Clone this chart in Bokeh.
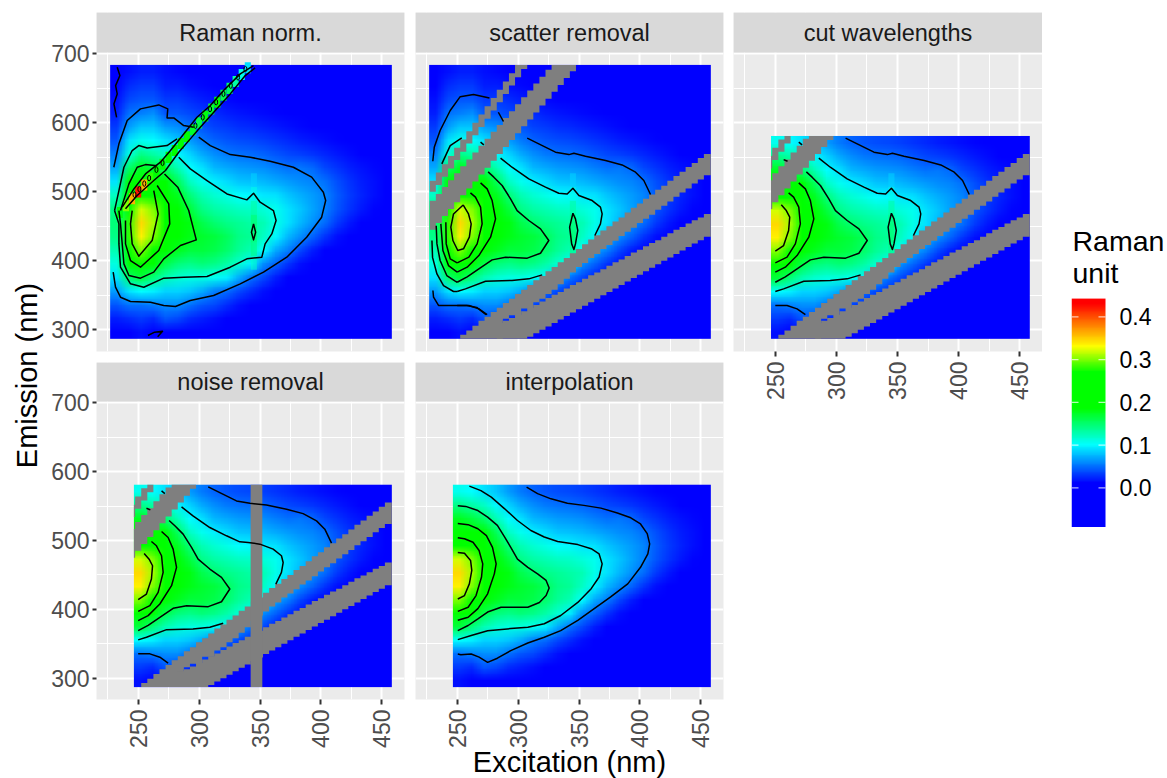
import base64, struct, zlib
import numpy as np
from bokeh.plotting import figure
from bokeh.layouts import row, column
from bokeh.models import (Range1d, LinearAxis, FixedTicker, Grid, LinearColorMapper, ColumnDataSource)
from bokeh.core.properties import value
from bokeh.embed import file_html
from bokeh.resources import INLINE

FONT = "Liberation Sans"
# ------------------------------------------------------------------ data
panel_titles = ["Raman norm.", "scatter removal", "cut wavelengths", "noise removal", "interpolation"]
ex_ticks = [250, 300, 350, 400, 450]
ex_minor = [225, 275, 325, 375, 425]
em_ticks = [300, 400, 500, 600, 700]
em_minor = [350, 450, 550, 650]
legend_ticks = [0.0, 0.1, 0.2, 0.3, 0.4]
legend_labels = ["0.0", "0.1", "0.2", "0.3", "0.4"]
legend_low, legend_high = -0.093, 0.443

# surface columns, one per excitation step; rows run emission 297 ... 677 in 20 nm steps
s232 = [.010,.020,.040,.065,.090,.110,.125,.140,.145,.140,.120,.090,.070,.055,.040,.030,.020,.015,.010,.008]
s242 = [.010,.025,.050,.090,.150,.210,.260,.280,.280,.250,.220,.190,.150,.110,.090,.065,.050,.035,.025,.015]
s252 = [.015,.030,.050,.100,.165,.250,.300,.335,.345,.320,.260,.220,.175,.140,.105,.080,.055,.040,.030,.020]
s262 = [.010,.025,.055,.095,.145,.210,.260,.300,.310,.300,.255,.210,.165,.130,.100,.080,.060,.040,.030,.020]
s272 = [.010,.040,.060,.085,.125,.160,.210,.245,.255,.245,.220,.190,.150,.120,.090,.065,.040,.030,.020,.015]
s282 = [.010,.035,.060,.085,.115,.145,.175,.190,.200,.195,.175,.155,.125,.098,.080,.060,.040,.030,.020,.012]
s292 = [.008,.025,.050,.080,.110,.140,.165,.178,.180,.165,.145,.120,.100,.085,.065,.050,.035,.025,.015,.010]
s302 = [.006,.020,.040,.070,.110,.145,.165,.170,.160,.140,.125,.105,.090,.070,.053,.040,.030,.020,.012,.008]
s312 = [.005,.015,.035,.055,.105,.140,.160,.165,.148,.130,.115,.095,.075,.060,.045,.033,.025,.016,.010,.006]
s322 = [.003,.010,.025,.048,.095,.130,.150,.155,.140,.125,.108,.088,.070,.053,.040,.030,.020,.012,.008,.004]
s332 = [.002,.006,.015,.035,.070,.115,.135,.140,.135,.120,.100,.080,.065,.050,.037,.026,.017,.010,.006,.003]
s342 = [.001,.003,.010,.025,.050,.095,.125,.135,.130,.118,.098,.078,.063,.048,.035,.024,.015,.009,.005,.002]
s352 = [.000,.001,.005,.015,.035,.060,.100,.120,.125,.112,.092,.075,.060,.045,.032,.021,.013,.008,.004,.002]
s362 = [.000,.000,.002,.008,.020,.045,.070,.098,.108,.105,.090,.070,.055,.040,.028,.018,.011,.006,.003,.001]
s372 = [.000,.000,.000,.003,.010,.028,.055,.075,.090,.090,.080,.065,.050,.035,.024,.015,.009,.005,.002,.001]
s382 = [.000,.000,.000,.001,.005,.015,.035,.060,.075,.080,.072,.060,.052,.032,.020,.012,.007,.004,.002,.001]
s392 = [.000,.000,.000,.000,.002,.008,.020,.045,.062,.068,.065,.057,.047,.028,.017,.010,.006,.003,.001,.000]
s402 = [.000,.000,.000,.000,.000,.003,.010,.028,.048,.056,.057,.050,.035,.023,.014,.008,.004,.002,.001,.000]
s412 = [.000,.000,.000,.000,.000,.001,.005,.015,.030,.040,.042,.038,.028,.018,.011,.006,.003,.001,.000,.000]
s422 = [.000,.000,.000,.000,.000,.000,.002,.008,.018,.028,.031,.028,.021,.014,.008,.004,.002,.000,.000,.000]
s432 = [.000,.000,.000,.000,.000,.000,.000,.003,.010,.018,.022,.020,.016,.010,.006,.003,.001,.000,.000,.000]
s442 = [.000,.000,.000,.000,.000,.000,.000,.001,.005,.011,.015,.015,.012,.008,.004,.002,.000,.000,.000,.000]
s452 = [.000,.000,.000,.000,.000,.000,.000,.000,.002,.006,.010,.010,.009,.006,.003,.001,.000,.000,.000,.000]

# narrow ridge of panel 1
ridge_ex = [235,240,245,250,255,260,265,270,275,280,285,290,295,300,305,310,315,320,325,330,335,340]
ridge_em = [470,480,490,500,510,520,530,540,550,560,570,580,590,600,610,620,630,640,650,660,670,680]
ridge_val = [.18,.30,.36,.42,.36,.28,.22,.20,.20,.19,.20,.19,.17,.16,.18,.17,.19,.16,.15,.13,.11,.09]
ridge_loop_ex = [247,251,255,259,265,270,297,303,309,314,320,326,332,338]
ridge_loop_em = [496,504,512,520,532,542,596,608,620,630,642,654,666,678]

# small peak at 345 nm
bump_em = [397,417,437,457,477,497,517]
bump_val = [.12,.145,.155,.155,.135,.11,.085]

# scatter bands per 5 nm excitation column
band_a_ex = [230,235,240,245,250,255,260,265,270,275,280,285,290,295,300,305]
band_a_low = [500,510,522,534,546,558,570,582,594,606,618,630,642,654,666,678]
band_a_high = [516,528,540,552,564,576,588,600,612,624,636,648,660,672,684,690]
band_b_ex = [230,235,240,245,250,255,260,265,270,275,280,285,290,295,300,305,310,315,320,325,330,335,340,345,350]
band_b_low = [445,455,465,475,485,495,505,515,525,535,545,555,565,575,585,595,605,615,625,635,645,655,665,675,685]
band_b_high = [487,497,507,517,527,537,547,557,567,577,587,597,607,617,627,637,647,657,667,677,687,697,707,717,727]
band_c_ex = [255,260,265,270,275,280,285,290,295,300,305,310,315,320,325,330,335,340,345,350,355,360,365,370,375,380,385,390,395,400,405,410,415,420,425,430,435,440,445,450,455]
band_c_low = [287,287,287,287,287,287,287,316,321,321,331,331,340,345,352,358,366,374,383,391,397,404,410,417,423,429,436,442,448,455,461,467,474,480,486,493,499,505,512,518,524]
band_c_high = [293,299,306,313,319,326,332,339,345,352,358,365,372,378,385,391,398,404,411,417,424,431,437,444,450,457,463,470,477,483,490,496,503,509,516,523,529,536,542,549,555]
band_d_ex = [285,290,295,300,305,310,315,320,325,330,335,340,345,350,355,360,365,370,375,380,385,390,395,400,405,410,415,420,425,430,435,440,445,450,455]
band_d_low = [287,287,287,287,287,290,295,300,305,310,315,320,325,330,335,340,345,350,355,360,365,370,375,380,385,390,395,400,405,410,415,420,425,430,435]
band_d_high = [310,313,317,322,327,332,336,341,346,351,355,360,365,369,374,379,383,388,393,398,402,407,412,416,421,426,430,435,440,445,449,454,459,463,468]
noise_band = [342.3, 351.9]

# contour lines of the interpolated surface
int_1 = ([250.5,253,261.5,268,275,283,294,308,321.5,335,349,362.5,376,390,400.5,406.5,408,406,400.5,392.5,381.5,368,354,340.5,327,316,307],
         [335,334,335,330.5,323,329,340,351,359.5,369,384,401,418,437,461,480.5,495,510,524,533,540,547,551,554,560.5,568,577.5])
int_2 = ([250.5,261.5,275,294,308,321.5,335,349,360,366.5,369,366.5,360,349,332.5,321.5,310.5,299.5,289,278,269.5,260],
         [356,362,369,372,374,379,391,410,430,447,466,480.5,488,494,498.5,505,514.5,529,546,563,572.5,579])
int_3 = ([250.5,259,267,275,286,297,308,317.5,323,325.5,323,316,308,299.5,294,289,283,275,267,257,250.5],
         [369,376.5,386,396,403,403,403,410,420,431,442,451.5,461,473,490,505,522,534,543.5,549.5,550.5])
int_4 = ([250.5,259,267,275,280.5,282,279,274,267,259,250.5],
         [384,388.5,401,422.5,451.5,466,490,507,517,523,524.5])
int_5 = ([250.5,259,265.5,270,271,268,263,256,250.5],
         [397,403,420,447,466,485.5,497.5,502.5,504])
int_6 = ([250.5,256,260,262,261,256,250.5],
         [415,420,437,456.5,471,481.5,482.5])

# contour lines of the cut, masked surface
cut_a = ([307.5,317,330.7,341.7,345.8,355.3,371.8,385.4,396.4,403.2,408.7],
         [577.8,569.6,557.5,554,556,551.7,545.4,539,528.5,516.4,496.1])
cut_b = ([285.6,295,308.8,322.5,333.4,340.3,345,349.9,360.8,367.6,369,367.6,363],
         [548.8,535.7,518.8,506.8,498,497,505.3,494.7,487.4,477.8,468,453.6,436.7])
cut_lens = ([345,342.3,344,345.8,347.1,349,347.1,345],
            [469,448.8,424.6,416.4,424.6,444,460.9,469])
cut_d = ([250,256.8,273.3,295,308.8,319.8],
         [355.6,359.4,370.5,371.5,373.9,379.7])
cut_e = ([250,258.2,267.8,278.7,289.7,307.5,318.4,325.2,318.4,308.8,299.2,293.8,286.9,280.1,275.4],
         [369,376.8,388.4,401.4,405.3,403.9,411,429.5,446.4,458.5,472.9,489.9,509.2,521.3,529])
cut_f = ([250,258.2,267.8,277.4,281.5,278.7,274.6,269.2],
         [383.6,390.8,407.7,434.3,460.9,487.4,504.3,513])
cut_g = ([250,259.6,266.4,270.5,269.2,265,260.9],
         [397,405.3,424.6,453.6,477.8,492.3,498.5])
cut_h = ([250,256.8,260.9,261.8,259,254.9],
         [414,422.2,444,463.3,472.9,481.2])
cut_i = ([250,259.6,267.8,274.6], [335.3,335.3,330.4,322])
cut_tick1 = ([269.2,271.9], [572,568])
cut_tick2 = ([256.8,260], [546.8,544.4])
noise_a = ([307.5,317,330.7,341.7,355.3,371.8,385.4,396.4,403.2,408.7],
           [577.8,569.6,557.5,554,551.7,545.4,539,528.5,516.4,496.1])
noise_b = ([285.6,295,308.8,322.5,333.4,340.3,349.9,360.8,367.6,369,367.6,363],
           [548.8,535.7,518.8,506.8,498,497,494.7,487.4,477.8,468,453.6,436.7])

# extra left parts of the scatter removal panel
sc_d = ([250,247,238.8,233.4,229.8,229.3], [355.6,355.6,364,381,405,429.5])
sc_e = ([250,248.4,241.5,236,233.4,232.8], [369,370.5,378.7,400.5,424.6,451])
sc_f = ([250,242.9,238.3,236.6], [383.6,393.2,415,453.6])
sc_g = ([250,244.3,241,240.7], [397,402.9,424.6,456])
sc_h = ([254.9,259.3,261.5,260,255.2,250.5,246.5,244.8,247,254.9],
        [481,468,453.6,434.3,417.4,415,429.5,448.8,468,481])
sc_j = ([230,231.2,236,244.3,252.5,263.4,276.5], [544.4,564.7,588.9,617.9,638,641,636.2])
sc_k = ([283.8,288], [615.4,602])
sc_l = ([237.4,244.3,253.8], [540.6,567.1,578.3])
sc_n = ([230.1,230.6,234.7,244.3,257.9,266,273.7], [357,347.3,335.3,335.3,335.3,332.5,322])

# contour lines of panel 1
r_1 = ([299.7,309.2,325.6,342,358.3,377.4,392.4,402,403.9,400.6,388.3,372,352.9,333.8,311.9,292.8,280.6,271,260.1,243.7,235.5,231.4,229.5],
       [579.2,567.1,554,550.2,544.4,535.7,521.3,499.5,487.4,463.3,434.3,405.3,383.6,366.7,349.8,342.5,333.8,335.3,340,341,347.3,361.8,383.6])
r_1u = ([230,234.2,241,251.9,266.9,274.3,273.7,279.2,287.4,295.6],
        [535.7,569.6,603.4,620.3,626,620.3,607.2,607.2,596.1,593.7])
r_2 = ([283.3,292.8,306.5,322.9,339.2,344.7,350.1,361,363.2,359.7,354.2,351.5,339.2,325.6,306.5,287.4,271,254.6,243.7,235.5,234.2,234.2,230.6],
       [550.2,533.3,516.4,497,488.4,498,485,472.9,458.5,439,424.6,405.3,402.9,390.8,377.3,376.3,374.9,361.8,366.7,390.8,424.6,453.6,472.9])
r_2u = ([230.6,234.2,238.3,245.1,250.5,257.4,273.7,281.9], [472.9,501.9,535.7,559.9,567.1,563.7,567.1,576.8])
r_3 = ([271.6,282.5,291.5,297.7,284.7,271,262.8,251.9,242.4,238.3,236.9,235.5,234.2],
       [526,506.8,472.9,430.4,422.2,402.9,383.6,374.9,378.7,395.6,424.6,453.6,472.9])
r_3u = ([235.5,242.4,249.2,256,265.6], [472.9,511.6,535.7,539.5,538])
r_4 = ([265.6,275.1,275.9,266.9,251.9,243.7,239.6,239.6], [509.2,482.6,453.6,415,390.8,400.5,424.6,458.5])
r_5 = ([262.8,266.4,261.5,250.5,245.1,243.7,245.1], [501.9,468,429.5,406.8,424.6,453.6,472.9])
r_lens = ([344.7,343,344.7,346.4,344.7], [453.6,441.5,430.4,441.5,453.6])
r_edge_a = ([236.9,246.5,256,268.3,276.5,287.4,298.3,309.2,320.1,333.8,344.7],
            [477.8,504.3,526,543,559.9,584,608.2,625.1,646.9,671,683])
r_edge_b = ([239.6,249.2,262.8,272.4,283.3,292.8,301,313.3,325.6,337.9,346],
            [475.4,494.7,516.4,530.9,557.5,576.8,593.7,617.9,642,668.6,679.7])
r_noise1 = ([232.8,235,231.5,232.8,230.1,232.3], [680.7,668.6,654,642,627.5,608])
r_noise2 = ([258,263.5,270,266], [291.8,296.6,298,290])

lines_raman = [r_1, r_1u, r_2, r_2u, r_3, r_3u, r_4, r_5, r_lens, r_edge_a, r_edge_b, r_noise1, r_noise2]
lines_scatter = [cut_a, cut_b, cut_lens, cut_d, cut_e, cut_f, cut_g, cut_i, cut_tick1,
                 sc_d, sc_e, sc_f, sc_g, sc_h, sc_j, sc_k, sc_l, sc_n]
lines_cut = [cut_a, cut_b, cut_lens, cut_d, cut_e, cut_f, cut_g, cut_h, cut_i, cut_tick1, cut_tick2]
lines_noise = [noise_a, noise_b, cut_d, cut_e, cut_f, cut_g, cut_h, cut_i, cut_tick1, cut_tick2]
lines_interp = [int_1, int_2, int_3, int_4, int_5, int_6]

# ------------------------------------------------------------------ colour scale
stops = [-0.093, 0.01, 0.10, 0.185, 0.27, 0.33, 0.43, 0.443]
stop_rgb = np.array([[0,0,255],[0,0,255],[0,255,255],[0,255,0],[0,255,0],[255,255,0],[255,0,0],[255,0,0]], float)
grid_v = np.linspace(legend_low, legend_high, 256)
palette = ["#%02x%02x%02x" % tuple(int(round(np.interp(v, stops, stop_rgb[:, c]))) for c in range(3)) for v in grid_v]
mapper = LinearColorMapper(palette=palette, low=legend_low, high=legend_high)

surface = np.array([s232,s242,s252,s262,s272,s282,s292,s302,s312,s322,s332,s342,s352,s362,s372,s382,s392,s402,s412,s422,s432,s442,s452]).T


def surface_url(table):
    """The surface table as an image the browser scales smoothly."""
    rows = table[::-1]
    h, w = rows.shape
    rgb = np.stack([np.interp(rows, stops, stop_rgb[:, c]) for c in range(3)], axis=-1).round().astype(np.uint8)
    raw = b"".join(b"\x00" + r.tobytes() for r in rgb)

    def chunk(tag, body):
        return struct.pack(">I", len(body)) + tag + body + struct.pack(">I", zlib.crc32(tag + body))
    png = (b"\x89PNG\r\n\x1a\n" + chunk(b"IHDR", struct.pack(">IIBBBBB", w, h, 8, 2, 0, 0, 0))
           + chunk(b"IDAT", zlib.compress(raw)) + chunk(b"IEND", b""))
    return "data:image/png;base64," + base64.b64encode(png).decode()


# ------------------------------------------------------------------ builders
EX_RANGE = (215.8, 468.6)
ROW1 = (268.6, 702.0)
ROW2 = (269.0, 701.9)
HEAT_EM0, EX_HI = 287.0, 458.2


def bare(width, height, left, right, top, bottom, xr, yr):
    p = figure(width=width, height=height, x_range=Range1d(*xr), y_range=Range1d(*yr),
               x_axis_location=None, y_axis_location=None, toolbar_location=None,
               output_backend="svg", min_border_left=left, min_border_right=right,
               min_border_top=top, min_border_bottom=bottom)
    p.grid.visible = False
    p.outline_line_color = None
    p.border_fill_color = "white"
    return p


def bands(p, ex, low, high, ex_lo, em_hi):
    ex = np.array(ex, float)
    edges = np.append(ex - 2.5, ex[-1] + 2.5)
    if ex[-1] >= 455:
        edges[-1] = EX_HI
    b = np.clip(np.array(low, float), HEAT_EM0, em_hi)
    t = np.clip(np.array(high, float), HEAT_EM0, em_hi)
    keep = edges[1:] > ex_lo
    edges = np.append(np.maximum(edges[:-1][keep], ex_lo), edges[-1])
    b = np.append(b[keep], b[keep][-1])
    t = np.append(t[keep], t[keep][-1])
    p.varea_step(x=edges, y1=b, y2=t, step_mode="after", fill_color="#7F7F7F")


def panel(title, frame_w, left, right, strip_top, strip_h, bottom, yr, frame_h, full, lines, x_axis=False,
          y_axis=False, masked=False, noise=False, ridge=False, bump=False, x_title=None):
    per_px = (yr[1] - yr[0]) / frame_h
    y_top = yr[1] + strip_h * per_px
    p = bare(left + frame_w + right, strip_top + strip_h + frame_h + bottom, left, right, strip_top, bottom,
             EX_RANGE, (yr[0], y_top))
    p.background_fill_color = "#EBEBEB"
    for dim, major, minor in ((0, ex_ticks, ex_minor), (1, em_ticks, em_minor)):
        p.add_layout(Grid(dimension=dim, ticker=FixedTicker(ticks=major, minor_ticks=minor),
                          grid_line_color="white", grid_line_width=2,
                          minor_grid_line_color="white", minor_grid_line_width=1))
    p.quad(left=[EX_RANGE[0]], right=[EX_RANGE[1]], bottom=[yr[1]], top=[y_top], fill_color="#D9D9D9", line_color=None)
    p.text(x=[(EX_RANGE[0] + EX_RANGE[1]) / 2], y=[(yr[1] + y_top) / 2], text=[title], text_align="center",
           text_baseline="middle", text_font=value(FONT), text_font_size="23.5px", text_color="#1A1A1A")
    if full:
        ex_lo, em_hi = 227.0, 684.0
        img = surface
    else:
        ex_lo, em_hi = 246.5, 581.0
        img = surface[:15, 2:]
    p.image_url(url=[surface_url(img)], x=ex_lo, y=HEAT_EM0, w=EX_HI - ex_lo, h=em_hi - HEAT_EM0, anchor="bottom_left")
    if ridge:
        src = ColumnDataSource(dict(x=ridge_ex, y=ridge_em, v=ridge_val))
        p.rect(x="x", y="y", width=5, height=16, source=src, line_color=None,
               fill_color={"field": "v", "transform": mapper})
    if bump:
        src = ColumnDataSource(dict(y=bump_em, v=bump_val))
        p.rect(x=345, y="y", width=5, height=20, source=src, line_color=None, fill_alpha=0.5,
               fill_color={"field": "v", "transform": mapper})
    if masked:
        bands(p, band_a_ex, band_a_low, band_a_high, ex_lo, em_hi)
        bands(p, band_b_ex, band_b_low, band_b_high, ex_lo, em_hi)
        bands(p, band_c_ex, band_c_low, band_c_high, ex_lo, em_hi)
        bands(p, band_d_ex, band_d_low, band_d_high, ex_lo, em_hi)
    if noise:
        p.quad(left=[noise_band[0]], right=[noise_band[1]], bottom=[HEAT_EM0], top=[em_hi],
               fill_color="#7F7F7F", line_color=None)
    for xs, ys in lines:
        p.line(xs, ys, line_color="black", line_width=1.5, line_join="round")
    if ridge:
        p.ellipse(x=ridge_loop_ex, y=ridge_loop_em, width=2.5, height=8, fill_color=None,
                  line_color="black", line_width=1)
    if x_axis:
        ax = LinearAxis(ticker=FixedTicker(ticks=ex_ticks), major_label_orientation=np.pi / 2,
                        major_label_text_font=FONT, major_label_text_font_size="23px",
                        major_label_text_color="#4D4D4D", major_label_standoff=5,
                        axis_line_color=None, major_tick_line_color="#333333", major_tick_line_width=2,
                        major_tick_in=0, major_tick_out=5, minor_tick_line_color=None)
        if x_title:
            ax.axis_label = x_title
            ax.axis_label_text_font = FONT
            ax.axis_label_text_font_size = "29px"
            ax.axis_label_text_font_style = "normal"
            ax.axis_label_text_color = "black"
            ax.axis_label_standoff = -5
        p.add_layout(ax, "below")
    if y_axis:
        ay = LinearAxis(ticker=FixedTicker(ticks=em_ticks), major_label_text_font=FONT,
                        major_label_text_font_size="23px", major_label_text_color="#4D4D4D",
                        major_label_standoff=3, axis_line_color=None, major_tick_line_color="#333333",
                        major_tick_line_width=2, major_tick_in=0, major_tick_out=4,
                        minor_tick_line_color=None)
        p.add_layout(ay, "left")
    return p


# ------------------------------------------------------------------ page
TOTAL_H = 778
ytitle = bare(44, TOTAL_H, 0, 0, 0, 0, (0, 44), (TOTAL_H, 0))
ytitle.text(x=[26], y=[375], text=["Emission (nm)"], angle=np.pi / 2, text_align="center",
            text_baseline="middle", text_font=value(FONT), text_font_size="29px", text_color="black")

BOTTOM2 = TOTAL_H - 699
col_a = column(
    panel(panel_titles[0], 308, 52, 5, 12, 40, 5, ROW1, 299, True, lines_raman, y_axis=True, ridge=True, bump=True),
    panel(panel_titles[3], 308, 52, 5, 6, 39, BOTTOM2, ROW2, 298, False, lines_noise, x_axis=True, y_axis=True,
          masked=True, noise=True),
    spacing=0)
col_b = column(
    panel(panel_titles[1], 308, 6, 5, 12, 40, 5, ROW1, 299, True, lines_scatter, masked=True, bump=True),
    panel(panel_titles[4], 308, 6, 5, 6, 39, BOTTOM2 + 2, ROW2, 298, False, lines_interp, x_axis=True,
          x_title="Excitation (nm)"),
    spacing=0)
col_c = column(panel(panel_titles[2], 309, 5, 0, 12, 40, 70, ROW1, 299, False, lines_cut, x_axis=True, masked=True, bump=True))

# legend: one frame holds the title, the bar and its labels; its x range counts pixels
per_val = (legend_high - legend_low) / 228.6
leg_top = legend_high + 75 * per_val
leg_bar = bare(125, 225 + 75 - 2 + 229, 29, 0, 223, 0, (0, 96), (legend_low, leg_top))
leg_bar.background_fill_color = "white"
leg_bar.image(image=[grid_v.reshape(-1, 1)], x=0, y=legend_low, dw=34, dh=legend_high - legend_low, color_mapper=mapper)
leg_bar.segment(x0=[0] * 5, x1=[7] * 5, y0=legend_ticks, y1=legend_ticks, line_color="white", line_width=1.2, line_alpha=0.7)
leg_bar.segment(x0=[27] * 5, x1=[34] * 5, y0=legend_ticks, y1=legend_ticks, line_color="white", line_width=1.2, line_alpha=0.7)
leg_bar.text(x=[48] * 5, y=legend_ticks, text=legend_labels, text_baseline="middle", text_font=value(FONT),
             text_font_size="23px", text_color="black")
leg_bar.text(x=[1, 1], y=[legend_high + 58 * per_val, legend_high + 26 * per_val], text=["Raman", "unit"],
             text_baseline="alphabetic", text_font=value(FONT), text_font_size="28.5px", text_color="black")
col_l = column(leg_bar)

page = row(ytitle, col_a, col_b, col_c, col_l, spacing=0)
open("out.html", "w").write(file_html(page, INLINE))
